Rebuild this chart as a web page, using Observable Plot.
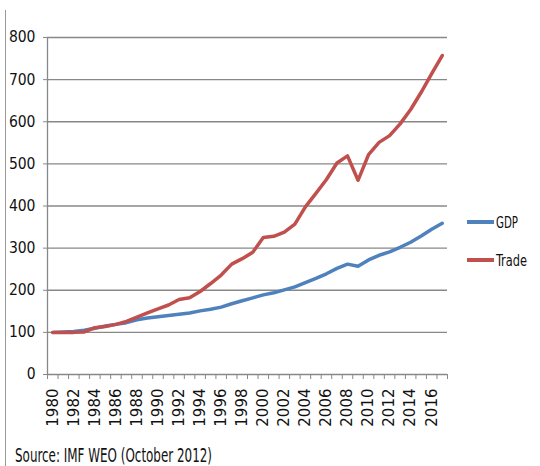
<!DOCTYPE html>
<html>
<head>
<meta charset="utf-8">
<script src="https://cdn.jsdelivr.net/npm/d3@7"></script>
<script src="https://cdn.jsdelivr.net/npm/@observablehq/plot@0.6"></script>
<style>
  html, body { margin: 0; padding: 0; background: white; }
  #chart svg { display: block; }
</style>
</head>
<body>
<div id="chart"></div>
<script>
const years = [1980, 1981, 1982, 1983, 1984, 1985, 1986, 1987, 1988, 1989,
  1990, 1991, 1992, 1993, 1994, 1995, 1996, 1997, 1998, 1999,
  2000, 2001, 2002, 2003, 2004, 2005, 2006, 2007, 2008, 2009,
  2010, 2011, 2012, 2013, 2014, 2015, 2016, 2017];
const gdp = [100, 101, 102, 105, 110, 115, 119, 123, 130, 134,
  137, 140, 143, 146, 151, 155, 160, 168, 175, 182,
  189, 194, 201, 208, 218, 228, 239, 252, 262, 257,
  272, 283, 291, 302, 314, 329, 345, 359];
const trade = [100, 100, 100, 101, 111, 114, 119, 126, 136, 146,
  156, 165, 178, 182, 197, 216, 236, 262, 275, 290,
  325, 328, 338, 357, 398, 430, 463, 502, 519, 461,
  522, 551, 567, 595, 629, 670, 714, 757];
const seriesNames = ["GDP", "Trade"];
const seriesColors = ["#4F81BD", "#C0504D"];
const yTicks = [0, 100, 200, 300, 400, 500, 600, 700, 800];
const gridValues = [100, 200, 300, 400, 500, 600, 700, 800];
const labelYears = [1980, 1982, 1984, 1986, 1988, 1990, 1992, 1994, 1996, 1998,
  2000, 2002, 2004, 2006, 2008, 2010, 2012, 2014, 2016];
const caption = "Source: IMF WEO (October 2012)";

const rows = years.map((y, i) => ({year: y, gdp: gdp[i], trade: trade[i]}));
const boundaries = years.map(y => y - 0.5).concat([years[years.length - 1] + 0.5]);
const narrow = "'Liberation Sans Narrow', 'DejaVu Sans Condensed', sans-serif";

const chart = Plot.plot({
  width: 540,
  height: 466,
  marginLeft: 47,
  marginRight: 93,
  marginTop: 37,
  marginBottom: 92,
  style: {background: "white", fontFamily: narrow, color: "#000"},
  x: {type: "linear", domain: [boundaries[0], boundaries[boundaries.length - 1]]},
  y: {domain: [0, 800]},
  marks: [
    Plot.gridY(gridValues, {stroke: "#888", strokeOpacity: 1, strokeWidth: 1.3}),
    Plot.ruleX([boundaries[0]], {stroke: "#888", strokeWidth: 1.3}),
    Plot.ruleY([0], {stroke: "#888", strokeWidth: 1.3}),
    Plot.axisY({ticks: yTicks, tickSize: 4, tickPadding: 8, fontSize: 15.5, label: null,
      stroke: "#888", fill: "#111", fontFamily: narrow, tickFormat: d => String(d)}),
    Plot.axisX({ticks: boundaries, tickSize: 5, tickFormat: () => "", label: null, stroke: "#888"}),
    Plot.axisX({ticks: labelYears, tickSize: 0, tickPadding: 14, tickRotate: -90,
      tickFormat: d => String(d), fontSize: 15, fontFamily: "'DejaVu Sans', sans-serif",
      fill: "#111", label: null}),
    Plot.line(rows, {x: "year", y: "gdp", stroke: seriesColors[0], strokeWidth: 3.5}),
    Plot.line(rows, {x: "year", y: "trade", stroke: seriesColors[1], strokeWidth: 3.5})
  ]
});
document.getElementById("chart").appendChild(chart);

const svg = d3.select(chart);
// left frame edge
svg.append("line").attr("x1", 5.5).attr("x2", 5.5).attr("y1", 10).attr("y2", 466)
  .attr("stroke", "#999").attr("stroke-width", 1);
// legend
const legendY = [222, 260];
const legendWidths = [22, 31];
seriesNames.forEach((name, i) => {
  svg.append("line").attr("x1", 467).attr("x2", 494)
    .attr("y1", legendY[i]).attr("y2", legendY[i])
    .attr("stroke", seriesColors[i]).attr("stroke-width", 4);
  svg.append("text").attr("x", 496).attr("y", legendY[i]).attr("dy", "0.35em")
    .attr("text-anchor", "start")
    .attr("textLength", legendWidths[i]).attr("lengthAdjust", "spacingAndGlyphs")
    .attr("font-family", narrow).attr("font-size", 16).attr("fill", "#111").text(name);
});
// caption
svg.append("text").attr("x", 15).attr("y", 462).attr("text-anchor", "start")
  .attr("textLength", 197).attr("lengthAdjust", "spacingAndGlyphs")
  .attr("font-family", narrow).attr("font-size", 19).attr("fill", "#111").text(caption);
</script>
</body>
</html>
